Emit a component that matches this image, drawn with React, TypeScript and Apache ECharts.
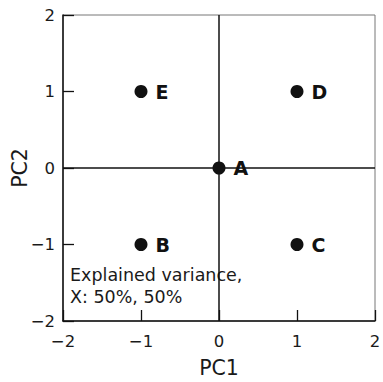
import React, { useEffect, useRef } from "react";
import * as echarts from "echarts";

const pointNames = ["A", "B", "C", "D", "E"];
const pc1 = [0, -1, 1, 1, -1];
const pc2 = [0, -1, -1, 1, 1];
const axisTicks = [-2, -1, 0, 1, 2];
const noteLines = ["Explained variance,", "X: 50%, 50%"];

const FONT = "'DejaVu Sans', 'Liberation Sans', Arial, sans-serif";

function fmt(v: number): string {
  return v < 0 ? "\u2212" + Math.abs(v) : String(v);
}

export default function App() {
  const ref = useRef<HTMLDivElement>(null);

  useEffect(() => {
    if (!ref.current) return;
    const chart = echarts.init(ref.current, undefined, { renderer: "svg" });
    const axisCommon = {
      type: "value" as const,
      min: axisTicks[0],
      max: axisTicks[axisTicks.length - 1],
      interval: 1,
      splitLine: { show: false },
      axisLine: { show: true, onZero: false, lineStyle: { color: "#111", width: 1.5 } },
      axisTick: { show: true, inside: true, length: 11, lineStyle: { color: "#111", width: 1.3 } },
      axisLabel: { color: "#1a1a1a", fontSize: 16.5, fontFamily: FONT, formatter: fmt },
      nameLocation: "middle" as const,
      nameMoveOverlap: false,
      nameTextStyle: { color: "#1a1a1a", fontSize: 20.5, fontFamily: FONT },
    };
    chart.setOption({
      animation: false,
      backgroundColor: "#fff",
      grid: {
        left: 63,
        right: 8,
        top: 15,
        bottom: 61,
        containLabel: false,
        outerBoundsMode: "none",
        show: true,
        borderColor: "#777",
        borderWidth: 1,
        backgroundColor: "transparent",
      },
      xAxis: {
        ...axisCommon,
        name: "PC1",
        nameGap: 36,
        axisLabel: { ...axisCommon.axisLabel, margin: 12 },
      },
      yAxis: {
        ...axisCommon,
        name: "PC2",
        nameGap: 33,
        nameRotate: 90,
        axisLabel: { ...axisCommon.axisLabel, margin: 8 },
      },
      series: [
        {
          type: "scatter",
          symbol: "circle",
          symbolSize: 13,
          itemStyle: { color: "#111", opacity: 1 },
          data: pointNames.map((n, i) => ({ name: n, value: [pc1[i], pc2[i]] })),
          label: {
            show: true,
            position: "right",
            distance: 8,
            formatter: (p: any) => p.name,
            color: "#111",
            fontSize: 19,
            fontWeight: "bold",
            fontFamily: FONT,
          },
          emphasis: { disabled: true },
          markLine: {
            silent: true,
            symbol: "none",
            label: { show: false },
            lineStyle: { color: "#111", width: 1.5, type: "solid" },
            data: [{ xAxis: 0 }, { yAxis: 0 }],
            z: 1,
          },
          z: 3,
        },
      ],
      graphic: [
        {
          type: "text",
          left: 70,
          top: 264,
          style: {
            text: noteLines.join("\n"),
            fill: "#1a1a1a",
            fontSize: 17.5,
            fontFamily: FONT,
            lineHeight: 22,
          },
        },
      ],
    });
    return () => chart.dispose();
  }, []);

  return (
    <div
      ref={ref}
      style={{ position: "fixed", left: 0, top: 0, width: 383, height: 382 }}
    />
  );
}
